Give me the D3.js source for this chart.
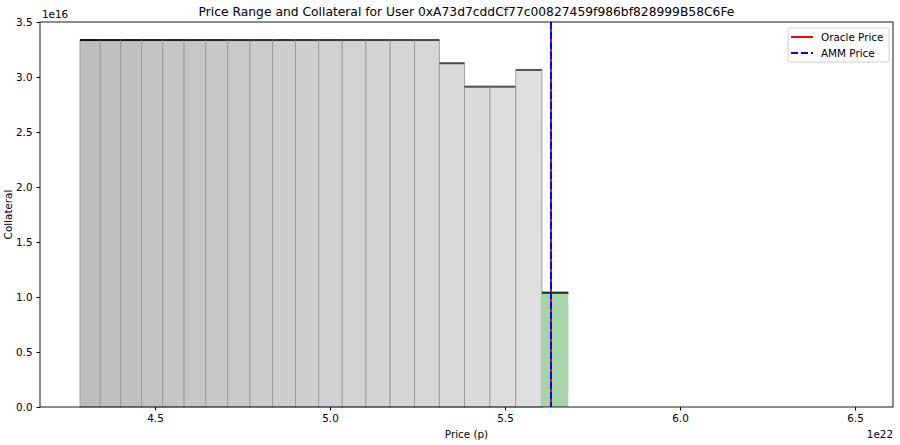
<!DOCTYPE html>
<html><head><meta charset="utf-8">
<script src="https://cdn.jsdelivr.net/npm/d3@7"></script>
<style>body{margin:0;background:#fff}svg text{font-family:"DejaVu Sans",sans-serif}</style>
</head><body><svg id="c" width="900" height="445"></svg>
<script>
// band edges (price, units of 1e22)
const bandLow  = [4.2857,4.3436,4.4023,4.4618,4.5221,4.5832,4.6451,4.7079,4.7715,4.8360,4.9013,4.9676,5.0347,5.1027,5.1717,5.2416,5.3124,5.3842,5.4569,5.5307,5.6054];
const bandHigh = [4.3436,4.4023,4.4618,4.5221,4.5832,4.6451,4.7079,4.7715,4.8360,4.9013,4.9676,5.0347,5.1027,5.1717,5.2416,5.3124,5.3842,5.4569,5.5307,5.6054,5.6811];
// collateral per band (units of 1e16)
const collateral = [3.336,3.336,3.336,3.336,3.336,3.336,3.336,3.336,3.336,3.336,3.336,3.336,3.336,3.336,3.336,3.336,3.125,2.912,2.912,3.064,1.039];
const activeBand = [false,false,false,false,false,false,false,false,false,false,false,false,false,false,false,false,false,false,false,false,true];
const oraclePrice = 5.6314;
const ammPrice = 5.6314;
const xTicks = [4.5,5.0,5.5,6.0,6.5];
const yTicks = [0.0,0.5,1.0,1.5,2.0,2.5,3.0,3.5];
const title = "Price Range and Collateral for User 0xA73d7cddCf77c00827459f986bf828999B58C6Fe";

const svg = d3.select("#c");
const L=40,R=893,T=22,B=407;
const x = d3.scaleLinear().domain([4.1714,6.6086]).range([L,R]);
const y = d3.scaleLinear().domain([0,3.5]).range([B,T]);
const n = collateral.length;
const greyFill = d3.interpolateRgb("#bebebe","#dedede");
const topCol = d3.interpolateRgb("#111111","#555555");

const g = svg.append("g");
collateral.forEach((c,i)=>{
  const x0=x(bandLow[i]), x1=x(bandHigh[i]);
  if(activeBand[i]){
    g.append("rect").attr("x",x0).attr("y",y(c)).attr("width",x1-x0).attr("height",y(0)-y(c))
      .attr("fill","#a8d5a8");
    g.append("line").attr("x1",x0).attr("x2",x1).attr("y1",y(c)).attr("y2",y(c))
      .attr("stroke","#0d4010").attr("stroke-width",2.2);
  } else {
    g.append("rect").attr("x",x0).attr("y",y(c)).attr("width",x1-x0).attr("height",y(0)-y(c))
      .attr("fill",greyFill(i/(n-2))).attr("stroke","#9a9a9a").attr("stroke-width",0.9);
    g.append("line").attr("x1",x0).attr("x2",x1).attr("y1",y(c)).attr("y2",y(c))
      .attr("stroke",topCol(i/(n-2))).attr("stroke-width",2);
  }
});

// price lines
svg.append("line").attr("x1",x(oraclePrice)).attr("x2",x(oraclePrice)).attr("y1",T).attr("y2",B)
  .attr("stroke","#ff0000").attr("stroke-width",2);
svg.append("line").attr("x1",x(ammPrice)).attr("x2",x(ammPrice)).attr("y1",T).attr("y2",B)
  .attr("stroke","#0000ff").attr("stroke-width",2).attr("stroke-dasharray","7,3");

// frame
svg.append("rect").attr("x",L).attr("y",T).attr("width",R-L).attr("height",B-T)
  .attr("fill","none").attr("stroke","#000").attr("stroke-width",0.9);

// axes
const xa = svg.append("g").attr("transform",`translate(0,${B})`)
  .call(d3.axisBottom(x).tickValues(xTicks).tickFormat(d3.format(".1f")).tickSize(3.5).tickPadding(4));
const ya = svg.append("g").attr("transform",`translate(${L},0)`)
  .call(d3.axisLeft(y).tickValues(yTicks).tickFormat(d3.format(".1f")).tickSize(3.5).tickPadding(4));
[xa,ya].forEach(a=>{a.select(".domain").remove();a.selectAll("text").attr("font-size",10.4).attr("fill","#000").style("font-family","DejaVu Sans");a.selectAll("line").attr("stroke","#000");});

// labels
svg.append("text").attr("x",(L+R)/2).attr("y",16).attr("text-anchor","middle").attr("font-size",12.3).text(title);
svg.append("text").attr("x",(L+R)/2).attr("y",438).attr("text-anchor","middle").attr("font-size",10.4).text("Price (p)");
svg.append("text").attr("transform",`translate(12,${(T+B)/2}) rotate(-90)`).attr("text-anchor","middle").attr("font-size",10.4).text("Collateral");
svg.append("text").attr("x",R).attr("y",438).attr("text-anchor","end").attr("font-size",10.4).text("1e22");
svg.append("text").attr("x",L+2).attr("y",18).attr("text-anchor","start").attr("font-size",10.4).text("1e16");

// legend
const lg = svg.append("g").attr("transform","translate(788,28)");
lg.append("rect").attr("width",101).attr("height",34).attr("rx",2).attr("fill","#fff").attr("fill-opacity",0.8).attr("stroke","#d0d0d0");
lg.append("line").attr("x1",3).attr("x2",25).attr("y1",9).attr("y2",9).attr("stroke","#ff0000").attr("stroke-width",2);
lg.append("line").attr("x1",3).attr("x2",25).attr("y1",25).attr("y2",25).attr("stroke","#0000ff").attr("stroke-width",2).attr("stroke-dasharray","7,3");
lg.append("text").attr("x",33).attr("y",12.5).attr("font-size",10.4).text("Oracle Price");
lg.append("text").attr("x",33).attr("y",29).attr("font-size",10.4).text("AMM Price");
</script></body></html>
